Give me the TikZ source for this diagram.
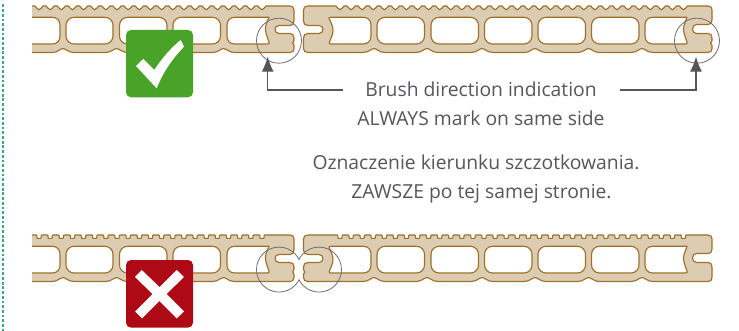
\documentclass[tikz,border=0pt]{standalone}
\usepackage{fontspec}
\setmainfont{Open Sans}
\usetikzlibrary{arrows.meta}
\definecolor{plank}{HTML}{DCCDB2}
\definecolor{plankedge}{HTML}{A0702A}
\definecolor{inkgrey}{HTML}{55565A}
\definecolor{ringgrey}{HTML}{6E6F72}
\definecolor{okgreen}{HTML}{4AA329}
\definecolor{badred}{HTML}{AE0A15}
\definecolor{dashgreen}{HTML}{3AAA7F}
\tikzset{
  plankline/.style={draw=plankedge,line width=1.15pt,line join=round},
  plankfill/.style={fill=plank},
  holeshape/.style={fill=white,draw=plankedge,line width=1.15pt,line join=round},
  ring/.style={draw=ringgrey,line width=0.8pt},
  pointer/.style={draw=inkgrey,line width=1.1pt,-{Latex[length=15pt,width=12pt]}},
  caption/.style={text=inkgrey,font=\fontsize{19.3}{22}\selectfont,inner sep=0pt,anchor=base},
  badge/.style={rounded corners=5pt},
}
\newcommand\roundDip{ -- (\c-4,6) .. controls (\c-2.6,6) and (\c-2.6,9.8) .. (\c,9.8) .. controls (\c+2.6,9.8) and (\c+2.6,6) .. (\c+4,6) }
\newcommand\squareDip{ -- (\c-3,6) -- (\c-2.2,6.4) -- (\c-2,9) -- (\c-1.4,9.4) -- (\c+1.4,9.4) -- (\c+2,9) -- (\c+2.2,6.4) -- (\c+3,6) }
\newcommand\teeth[3]{ \foreach \i [evaluate=\i as \c using #1+#3*\i] in {0,...,#2} { \dip } }
\newcommand\cusps[1]{ \foreach \c in {#1} { -- (\c+11,52.5) .. controls (\c+5,52.5) and (\c+3,48.6) .. (\c,48.6) .. controls (\c-3,48.6) and (\c-5,52.5) .. (\c-11,52.5) } }
\newcommand\holeAt[2]{\path[holeshape,rounded corners=8pt] (#1,17.3) rectangle (#2,44);}
\newcommand\plankA[1]{%
  (32,6) \teeth{39}{20}{11.15} -- (290,6) .. controls (292.5,6) and (294,7.5) .. (294,10)
  -- (294,21) .. controls (294,24) and (292.5,25.5) .. (290,25.5) -- (279,25.5)
  .. controls (273.7,25.5) and (273.7,33.5) .. (279,33.5) -- (290,33.5)
  .. controls (292.5,33.5) and (294,35) .. (294,38) -- (294,40.6)
  .. controls (292.3,41.5) and (292.3,44.5) .. (294,45.4) -- (294,48.5)
  .. controls (294,51) and (292.5,52.5) .. (290,52.5)
  \cusps{223.5,170,116.5,63} -- (32,52.5)}
\newcommand\plankB[2]{%
  (303.5,10) .. controls (303.5,7.5) and (305,6) .. (308,6)
  \teeth{340}{31}{11.08} -- (708,6) .. controls (710.5,6) and (712,7.5) .. (712,10)
  -- (712,20) .. controls (712,23) and (710.5,24.5) .. (708,24.5) -- (696.5,24.5)
  .. controls (691.2,24.5) and (691.2,33.5) .. (696.5,33.5) -- (708,33.5)
  .. controls (710.5,33.5) and (712,35) .. (712,38) #1 -- (712,48.5)
  .. controls (712,51) and (710.5,52.5) .. (708,52.5)
  \cusps{642,588.5,535,482,427,374} -- (308,52.5)
  .. controls (305,52.5) and (303.5,51) .. (303.5,48.5) #2 -- (303.5,38)
  .. controls (303.5,35) and (305,33.5) .. (308,33.5) -- (319,33.5)
  .. controls (324.3,33.5) and (324.3,25.5) .. (319,25.5) -- (308,25.5)
  .. controls (305,25.5) and (303.5,24) .. (303.5,21) -- cycle}
\newcommand\notchR{-- (712,40.6) .. controls (710.3,41.5) and (710.3,44.5) .. (712,45.4)}
\newcommand\notchL{-- (303.5,45.4) .. controls (305.2,44.5) and (305.2,41.5) .. (303.5,40.6)}
\newcommand\holesAll{%
  \path[holeshape] (32,17.3) -- (52,17.3) .. controls (57,17.3) and (60,20.3) .. (60,25.3) -- (60,36) .. controls (60,41) and (57,44) .. (52,44) -- (32,44);
  \holeAt{66}{113}\holeAt{119.5}{167}\holeAt{173}{220.5}
  \path[holeshape] (269,17.3) .. controls (266,24) and (265,27) .. (265.5,30) .. controls (266,34) and (267.5,38) .. (269,42) .. controls (269.5,43.5) and (269,44) .. (267,44) -- (235,44) .. controls (230,44) and (227,41) .. (227,36) -- (227,25.3) .. controls (227,20.3) and (230,17.3) .. (235,17.3) -- cycle;
  \path[holeshape] (329,18.5) .. controls (329,17.5) and (330,17.3) .. (331,17.3) -- (363,17.3) .. controls (368,17.3) and (371,20.3) .. (371,25.3) -- (371,36) .. controls (371,41) and (368,44) .. (363,44) -- (331,44) .. controls (329.5,44) and (329,43.5) .. (329.3,42.5) .. controls (331,38) and (333,34) .. (333,30.5) .. controls (333,27) and (331,22) .. (329,18.5) -- cycle;
  \holeAt{377}{424.5}\holeAt{431}{478.5}\holeAt{484.5}{532}\holeAt{538}{585.5}\holeAt{591.5}{639}
  \path[holeshape] (687,17.3) .. controls (684.5,24) and (683.3,27) .. (683.5,30) .. controls (684,34) and (685.5,38) .. (687,42) .. controls (687.5,43.5) and (687,44) .. (685,44) -- (653,44) .. controls (648,44) and (645,41) .. (645,36) -- (645,25.3) .. controls (645,20.3) and (648,17.3) .. (653,17.3) -- cycle;
}
\begin{document}
\begin{tikzpicture}[x=1pt,y=-1pt]
\useasboundingbox (0,0) rectangle (739,331);
\coordinate (dashtop) at (3,4.5);
\coordinate (dashbot) at (3,331);
\draw[dashgreen,line width=2.3pt,dash pattern=on 2.8pt off 1.9pt] (dashtop) -- (dashbot);
\begin{scope}
  \let\dip\roundDip
  \fill[plankfill] \plankA{};
  \draw[plankline] \plankA{};
  \path[plankfill,plankline] \plankB{\notchR}{};
  \holesAll
\end{scope}
\begin{scope}[shift={(0,229)}]
  \let\dip\squareDip
  \fill[plankfill] \plankA{};
  \draw[plankline] \plankA{};
  \path[plankfill,plankline] \plankB{}{\notchL};
  \holesAll
\end{scope}
\node[ring,circle,minimum size=45pt,inner sep=0pt] (ringA) at (279,40.7) {};
\node[ring,circle,minimum size=45pt,inner sep=0pt] (ringB) at (697,40.7) {};
\begin{scope}
  \clip (0,220) rectangle (299,331);
  \node[ring,circle,minimum size=45pt,inner sep=0pt] (ringC) at (279,269.6) {};
\end{scope}
\begin{scope}
  \clip (299,220) rectangle (739,331);
  \node[ring,circle,minimum size=45pt,inner sep=0pt] (ringD) at (319,269.6) {};
\end{scope}
\fill[okgreen,badge] (126,30) rectangle (193,97.3);
\fill[white] (136,66) -- (143.3,59) -- (154.3,70) .. controls (162,58) and (172,47) .. (180.7,40) -- (184,46.7) .. controls (173,58) and (163,72) .. (156.7,88.3) -- cycle;
\fill[badred,badge] (126,260) rectangle (193,327.7);
\fill[white] (141.7,270) -- (159.5,287) -- (176.7,270) -- (184,277) -- (166.5,294) -- (184,311.5) -- (176.7,318.3) -- (159.5,301) -- (142,318.3) -- (135,311.5) -- (152.5,294) -- (135,277) -- cycle;
\node[caption] (brush) at (481,96.5) {Brush direction indication};
\node[caption] (always) at (481,125.5) {ALWAYS mark on same side};
\node[caption] (ozn) at (476,170) {Oznaczenie kierunku szczotkowania.};
\node[caption] (zaw) at (481.5,198.5) {ZAWSZE po tej samej stronie.};
\coordinate (tipA) at (267.7,56.7);
\coordinate (tailA) at (343,90);
\coordinate (tipB) at (696,56.7);
\coordinate (tailB) at (620,90);
\draw[pointer] (tailA) -| (tipA);
\draw[pointer] (tailB) -| (tipB);
\end{tikzpicture}
\end{document}
